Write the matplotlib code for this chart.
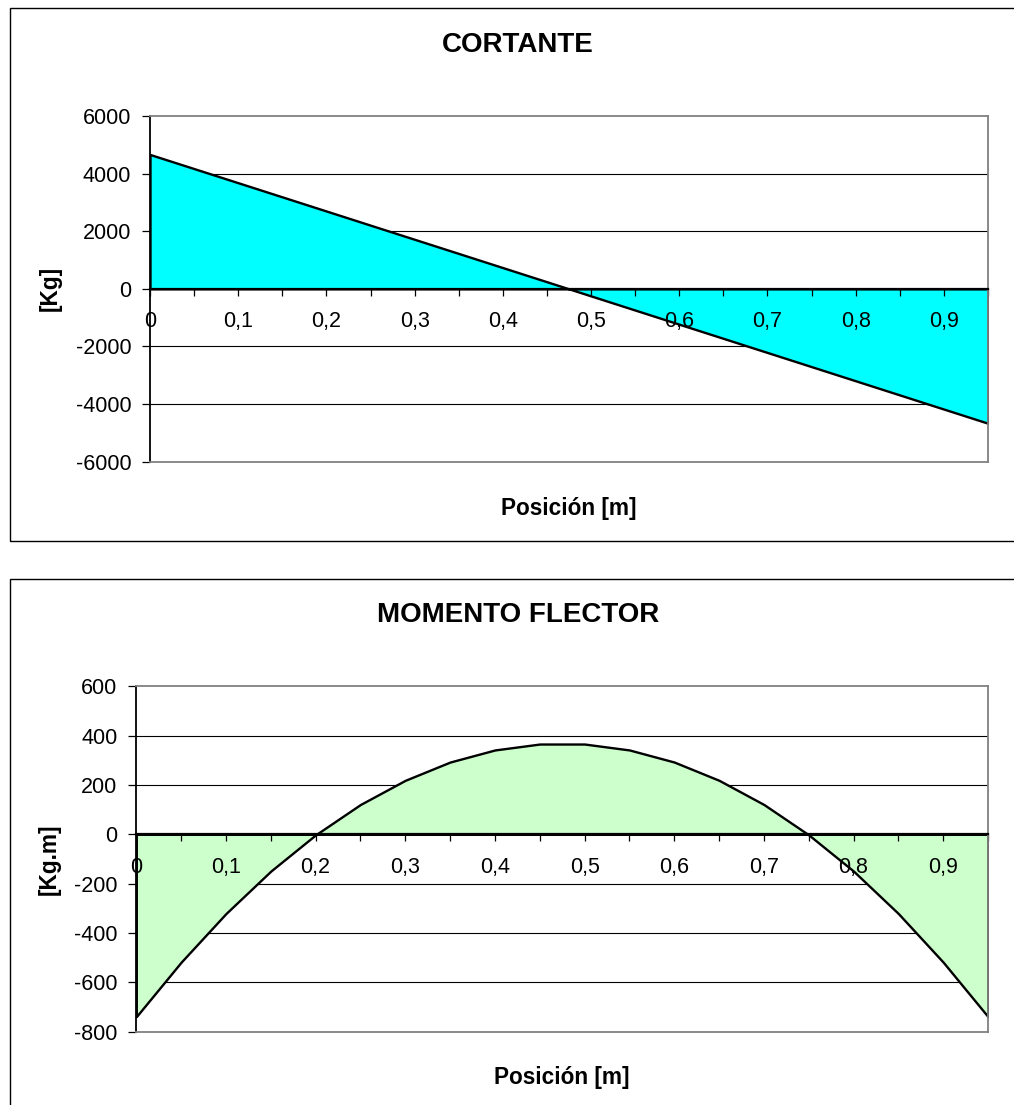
import numpy as np
import matplotlib
matplotlib.use("Agg")
import matplotlib.pyplot as plt
from matplotlib.patches import Rectangle

plt.rcParams['font.family'] = ['Liberation Sans', 'DejaVu Sans']

# Beam positions [m] (category axis) and labels shown every 0.1 m
posiciones = [0.00, 0.05, 0.10, 0.15, 0.20, 0.25, 0.30, 0.35, 0.40, 0.45,
              0.50, 0.55, 0.60, 0.65, 0.70, 0.75, 0.80, 0.85, 0.90, 0.95]
etiquetas_x = ["0", "0,1", "0,2", "0,3", "0,4", "0,5", "0,6", "0,7", "0,8", "0,9"]

# Shear force [Kg]
cortante = [4665, 4174, 3683, 3192, 2701, 2210, 1719, 1228, 737, 246,
            -246, -737, -1228, -1719, -2210, -2701, -3192, -3683, -4174, -4665]

# Bending moment [Kg.m]
momento = [-739, -518, -321, -149, -2, 121, 219, 293, 342, 366,
           366, 342, 293, 219, 121, -2, -149, -321, -518, -739]

yticks_cortante = [-6000, -4000, -2000, 0, 2000, 4000, 6000]
yticks_momento = [-800, -600, -400, -200, 0, 200, 400, 600]

W, H = 1014, 1105
fig = plt.figure(figsize=(W / 100, H / 100), dpi=100)
fig.patch.set_facecolor('white')


def px_rect(l, t, r, b):
    return [l / W, 1 - b / H, (r - l) / W, (b - t) / H]


def fx(x):
    return x / W


def fy(y):
    return 1 - y / H


# Outer chart frames
for (l, t, r, b) in [(9.5, 8.5, 1040, 540.5), (9.5, 578.5, 1040, 1140)]:
    fig.add_artist(Rectangle((fx(l), fy(b)), (r - l) / W, (b - t) / H,
                             transform=fig.transFigure, fill=False,
                             edgecolor='black', linewidth=1.0))


def draw_panel(rect, values, yticks, color, title, ylabel, title_y, xlabel_y, ylabel_x):
    ax = fig.add_axes(px_rect(*rect))
    x = np.arange(len(posiciones))
    ax.set_xlim(0, len(posiciones) - 1)
    ax.set_ylim(yticks[0], yticks[-1])

    # horizontal gridlines sit beneath the filled area
    for v in yticks[1:-1]:
        if v != 0:
            ax.axhline(v, color='black', linewidth=0.8, zorder=0.5)

    ax.fill_between(x, values, 0, facecolor=color, edgecolor='black',
                    linewidth=1.7, zorder=1.5)

    # frame
    for s in ['top', 'right']:
        ax.spines[s].set_color('#808080')
        ax.spines[s].set_linewidth(1.3)
    ax.spines['left'].set_color('black')
    ax.spines['left'].set_linewidth(1.3)
    ax.spines['bottom'].set_position(('data', 0))
    ax.spines['bottom'].set_color('black')
    ax.spines['bottom'].set_linewidth(1.6)
    ax.plot([0, 1], [0, 0], transform=ax.transAxes, color='#808080',
            linewidth=1.3, clip_on=False, zorder=3)

    ax.set_xticks(x)
    labels = []
    for i in range(len(posiciones)):
        labels.append(etiquetas_x[i // 2] if i % 2 == 0 else "")
    ax.set_xticklabels(labels)
    ax.set_yticks(yticks)
    ax.set_yticklabels([str(v) for v in yticks])
    ax.tick_params(axis='x', direction='out', length=5, width=0.9,
                   labelsize=15.5, pad=11, color='black')
    ax.tick_params(axis='y', direction='out', length=5.5, width=0.9,
                   labelsize=15.5, pad=8, color='black')

    l, t, r, b = rect
    cx = (l + r) / 2
    fig.text(fx(518), fy(title_y), title, ha='center', va='baseline',
             fontsize=20, fontweight='bold')
    fig.text(fx(cx), fy(xlabel_y), 'Posición [m]', ha='center', va='baseline',
             fontsize=16.3, fontweight='bold')
    fig.text(fx(ylabel_x), fy((t + b) / 2), ylabel, ha='center', va='center',
             rotation=90, fontsize=16.3, fontweight='bold')
    return ax


draw_panel((150, 116, 988, 461.7), cortante, yticks_cortante, '#00FFFF',
           'CORTANTE', '[Kg]', 52.3, 514.5, 50)
draw_panel((136.3, 686.3, 988, 1031.7), momento, yticks_momento, '#CCFFCC',
           'MOMENTO FLECTOR', '[Kg.m]', 622.3, 1084.4, 49)

fig.savefig('out.png', dpi=100, facecolor='white')
